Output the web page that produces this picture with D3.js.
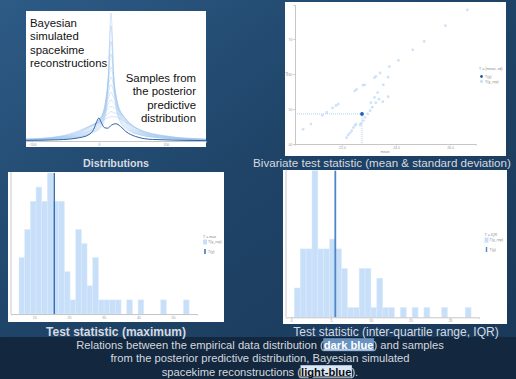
<!DOCTYPE html>
<html>
<head>
<meta charset="utf-8">
<script src="https://cdn.jsdelivr.net/npm/d3@7"></script>
<style>
  html, body { margin: 0; padding: 0; background: #1d3f63; overflow: hidden; }
</style>
</head>
<body>
<svg id="chart" width="516" height="379"></svg>
<script>
// ---- Distributions panel: densities on a shared grid ----
const densityGrid = [-110, -60, -30, -12, 0, 8, 13, 18, 23, 30, 42, 60, 100, 160];
const replicateDensities = [
  [0.5, 1.5, 3, 6, 9, 16, 35, 100, 38, 17, 9, 5, 2, 0.5],
  [0.6, 1.6, 3.2, 6.5, 10, 18, 40, 90, 42, 18, 10, 5, 2, 0.6],
  [0.7, 1.8, 3.5, 7, 11, 20, 42, 78, 44, 20, 11, 5.5, 2.2, 0.7],
  [0.8, 2, 4, 8, 12, 22, 44, 68, 45, 22, 12, 6, 2.4, 0.8],
  [0.9, 2.2, 4.5, 8.5, 13, 24, 42, 58, 43, 24, 13, 6.5, 2.6, 0.9],
  [1, 2.5, 5, 9, 14, 26, 40, 50, 41, 25, 14, 7, 2.8, 1],
  [1, 2.6, 5.5, 10, 15, 25, 36, 44, 37, 26, 15, 7.5, 3, 1],
  [1.1, 2.8, 6, 11, 16, 24, 32, 38, 33, 25, 16, 8, 3.2, 1.1],
  [1.2, 3, 6.5, 11.5, 16, 22, 28, 32, 29, 24, 16, 8.5, 3.4, 1.2],
  [1.3, 3.2, 7, 12, 16, 21, 25, 27, 26, 23, 16, 9, 3.6, 1.3],
  [1.4, 3.4, 7.5, 12, 15, 19, 21, 23, 22, 21, 15, 9, 3.8, 1.4],
  [1.5, 3.6, 8, 12, 14, 17, 18, 19, 19, 18, 14, 9, 4, 1.5]
];
const observedGrid = [-110, -60, -30, -15, -8, -3, 0, 3, 8, 13, 19, 25, 32, 40, 55, 80, 160];
const observedDensity = [0.5, 1, 2.5, 5, 9, 15.5, 18, 15, 10.5, 10, 12.5, 13.5, 11.5, 7.5, 3.5, 1.2, 0.3];
const densityTicks = [-100, 0, 100];

// ---- Bivariate panel: (mean, sd) of replicates ----
const repMeans = [20.56, 20.85, 21.27, 21.44, 21.65, 21.78, 21.86, 22.47, 22.54, 22.78, 22.84, 23.20, 23.25, 23.41,
  23.75, 24.09, 24.62, 25.04, 25.83, 26.64,
  22.17, 22.23, 22.30, 22.36, 22.42, 22.48, 22.52, 22.67, 22.70, 22.79, 22.85, 22.95, 23.04, 23.12,
  23.25, 23.37, 23.51, 23.71, 23.07, 23.20, 23.32, 23.53, 23.71];
const repSds = [44.2, 45.7, 48.2, 49.0, 50.3, 51.0, 51.4, 55.2, 55.6, 56.8, 56.9, 58.9, 59.3, 60.3,
  62.1, 63.9, 66.9, 69.3, 73.8, 78.3,
  41.8, 42.6, 43.2, 43.8, 44.7, 45.3, 45.7, 45.4, 45.9, 46.7, 47.6, 48.6, 49.5, 50.5,
  51.8, 52.8, 52.1, 53.5, 51.8, 53.3, 54.7, 56.9, 59.1];
const obsMean = 22.74;
const obsSd = 48.6;
const meanTicks = [22, 24, 26];
const sdTicks = [40, 50, 60, 70];

// ---- Maximum histogram ----
const maxBinStart = 5.6;
const maxBinWidth = 1.634;
const maxCounts = [4, 6, 8, 9, 8, 10, 8, 8, 3, 1, 6, 5, 2, 4, 1, 1, 1, 1, 0, 1, 0, 1, 0, 0, 0, 1, 0, 0, 0, 1];
const obsMax = 15.76;
const maxTicks = [10, 20, 30, 40, 50];

// ---- IQR histogram ----
const iqrBinStart = 0.38;
const iqrBinWidth = 0.742;
const iqrCounts = [3, 7, 7, 15, 7, 7, 8, 7, 5, 1, 1, 5, 5, 1, 4, 1, 1, 0, 1, 0, 1, 0, 1, 0, 0, 1, 0, 0, 0, 1];
const obsIqr = 5.54;
const iqrTicks = [0, 5, 10, 15, 20];

const FONT = '"Liberation Sans", Arial, Helvetica, sans-serif';
const LIGHT = '#c8dffa';
const DARK = '#2a63a8';
const AXIS = '#c6c6c6';

const svg = d3.select('#chart');

// background
const defs = svg.append('defs');
const bg = defs.append('linearGradient').attr('id', 'bg')
  .attr('x1', 0).attr('y1', 0).attr('x2', 1).attr('y2', 1);
bg.append('stop').attr('offset', 0).attr('stop-color', '#2d5b86');
bg.append('stop').attr('offset', 0.45).attr('stop-color', '#1f4468');
bg.append('stop').attr('offset', 1).attr('stop-color', '#193858');
svg.append('rect').attr('width', 516).attr('height', 379).attr('fill', 'url(#bg)');
svg.append('rect').attr('y', 337).attr('width', 516).attr('height', 42).attr('fill', '#13283f');

function panel(x, y, w, h) {
  return svg.append('rect').attr('x', x).attr('y', y).attr('width', w).attr('height', h).attr('fill', '#fff');
}

function styleAxis(g) {
  g.select('.domain').attr('stroke', AXIS);
  g.selectAll('.tick line').attr('stroke', AXIS);
  g.selectAll('.tick text').attr('fill', '#999').attr('font-size', 3.5).attr('font-family', FONT);
}

function tinyText(x, y, txt, anchor) {
  svg.append('text').attr('x', x).attr('y', y).attr('font-family', FONT)
    .attr('font-size', 3.6).attr('fill', '#888').attr('text-anchor', anchor || 'start').text(txt);
}

// ===== Panel 1: Distributions =====
panel(26, 11, 180, 136);
defs.append('clipPath').attr('id', 'clip1').append('rect')
  .attr('x', 26).attr('y', 11).attr('width', 180).attr('height', 136);
const x1 = d3.scaleLinear().domain([-109, 160]).range([26, 206]);
const y1 = d3.scaleLinear().domain([0, 100]).range([141, 13]);
const g1 = svg.append('g').attr('clip-path', 'url(#clip1)');
const line1 = d3.line().x(d => x1(d[0])).y(d => y1(d[1])).curve(d3.curveMonotoneX);
g1.selectAll('.rep').data(replicateDensities).join('path')
  .attr('class', 'rep')
  .attr('d', vals => line1(densityGrid.map((gx, i) => [gx, vals[i]])))
  .attr('fill', 'none').attr('stroke', '#9cc4ef').attr('stroke-opacity', 0.6).attr('stroke-width', 0.7);
g1.append('path')
  .attr('d', line1(observedGrid.map((gx, i) => [gx, observedDensity[i]])))
  .attr('fill', 'none').attr('stroke', DARK).attr('stroke-width', 1);
const ax1 = svg.append('g').attr('transform', 'translate(0,141)')
  .call(d3.axisBottom(x1).tickValues(densityTicks).tickSize(1.5).tickPadding(1));
styleAxis(ax1);

const leftLabel = ['Bayesian', 'simulated', 'spacekime', 'reconstructions'];
const rightLabel = ['Samples from', 'the posterior', 'predictive', 'distribution'];
leftLabel.forEach((t, i) => svg.append('text').attr('x', 30).attr('y', 27 + i * 13.4)
  .attr('font-family', FONT).attr('font-size', 11.4).attr('fill', '#111').text(t));
rightLabel.forEach((t, i) => svg.append('text').attr('x', 196).attr('y', 82 + i * 13.4)
  .attr('text-anchor', 'end').attr('font-family', FONT).attr('font-size', 11.4).attr('fill', '#111').text(t));

// ===== Panel 2: Bivariate =====
panel(285, 2, 221, 154);
const x2 = d3.scaleLinear().domain([20.26, 26.96]).range([295, 476]);
const y2 = d3.scaleLinear().domain([40, 79.7]).range([144, 5]);
svg.append('line').attr('x1', x2.range()[0]).attr('x2', x2(obsMean))
  .attr('y1', y2(obsSd)).attr('y2', y2(obsSd))
  .attr('stroke', '#9cc3ea').attr('stroke-width', 0.8).attr('stroke-dasharray', '1,1');
svg.append('line').attr('x1', x2(obsMean)).attr('x2', x2(obsMean))
  .attr('y1', y2(obsSd)).attr('y2', y2.range()[0])
  .attr('stroke', '#9cc3ea').attr('stroke-width', 0.8).attr('stroke-dasharray', '1,1');
svg.append('g').selectAll('circle').data(repMeans).join('circle')
  .attr('cx', d => x2(d)).attr('cy', (d, i) => y2(repSds[i])).attr('r', 1.4)
  .attr('fill', '#c2dbf6').attr('fill-opacity', 0.8);
svg.append('circle').attr('cx', x2(obsMean)).attr('cy', y2(obsSd)).attr('r', 1.9).attr('fill', '#1b5fb5');
const ax2x = svg.append('g').attr('transform', 'translate(0,144)')
  .call(d3.axisBottom(x2).tickValues(meanTicks).tickSize(1.5).tickPadding(1));
const ax2y = svg.append('g').attr('transform', 'translate(295,0)')
  .call(d3.axisLeft(y2).tickValues(sdTicks).tickSize(1.5).tickPadding(1));
styleAxis(ax2x); styleAxis(ax2y);
tinyText(385, 153, 'mean', 'middle');
svg.append('text').attr('transform', 'translate(288,74) rotate(-90)').attr('text-anchor', 'middle')
  .attr('font-family', FONT).attr('font-size', 3.6).attr('fill', '#888').text('sd');
tinyText(479, 69.5, 'T = (mean, sd)');
svg.append('circle').attr('cx', 481.5).attr('cy', 76.5).attr('r', 1.4).attr('fill', '#1b5fb5');
tinyText(485, 78, 'T(y)');
svg.append('circle').attr('cx', 481.5).attr('cy', 81.5).attr('r', 1.4).attr('fill', '#c2dbf6');
tinyText(485, 83, 'T(y_rep)');

// ===== Histogram helper =====
function histogram(opts) {
  const { xScale, yScale, binStart, binWidth, counts, obs, ticks, legendX, legendY, title } = opts;
  const g = svg.append('g');
  g.selectAll('rect').data(counts).join('rect')
    .attr('x', (d, i) => xScale(binStart + i * binWidth))
    .attr('width', xScale(binStart + binWidth) - xScale(binStart))
    .attr('y', d => yScale(d))
    .attr('height', d => yScale(0) - yScale(d))
    .attr('fill', LIGHT).attr('stroke', '#dcebfc').attr('stroke-width', 0.5)
    .attr('display', d => d > 0 ? null : 'none');
  svg.append('line').attr('x1', xScale(obs)).attr('x2', xScale(obs))
    .attr('y1', yScale(0)).attr('y2', yScale.range()[1])
    .attr('stroke', opts.obsColor).attr('stroke-width', opts.obsWidth);
  const ax = svg.append('g').attr('transform', `translate(0,${yScale(0)})`)
    .call(d3.axisBottom(xScale).tickValues(ticks).tickSize(1.5).tickPadding(1));
  styleAxis(ax);
  svg.append('line').attr('x1', xScale.range()[0]).attr('x2', xScale.range()[0])
    .attr('y1', yScale(0)).attr('y2', yScale.range()[1] - 1).attr('stroke', AXIS);
  // legend
  tinyText(legendX, legendY, title);
  svg.append('rect').attr('x', legendX).attr('y', legendY + 1.5).attr('width', 4).attr('height', 5).attr('fill', LIGHT);
  tinyText(legendX + 5, legendY + 5, 'T(y_rep)');
  svg.append('rect').attr('x', legendX + 1.3).attr('y', legendY + 11).attr('width', 1.4).attr('height', 5).attr('fill', opts.obsColor);
  tinyText(legendX + 5, legendY + 15, 'T(y)');
}

// ===== Panel 3: maximum =====
panel(8, 172, 216, 150);
histogram({
  xScale: d3.scaleLinear().domain([3.29, 56.9]).range([11, 197]),
  yScale: d3.scaleLinear().domain([0, 10]).range([314, 173]),
  binStart: maxBinStart, binWidth: maxBinWidth, counts: maxCounts, obs: obsMax, ticks: maxTicks,
  obsColor: '#2a63a8', obsWidth: 1.3, legendX: 203, legendY: 238, title: 'T = max'
});

// ===== Panel 4: IQR =====
panel(283, 170, 224, 154);
histogram({
  xScale: d3.scaleLinear().domain([-0.67, 23.64]).range([286, 479]),
  yScale: d3.scaleLinear().domain([0, 15]).range([317.3, 170.7]),
  binStart: iqrBinStart, binWidth: iqrBinWidth, counts: iqrCounts, obs: obsIqr, ticks: iqrTicks,
  obsColor: '#4f86c8', obsWidth: 1.8, legendX: 484.5, legendY: 236, title: 'T = IQR'
});

// ===== Captions =====
function caption(x, y, txt, size, bold, anchor) {
  svg.append('text').attr('x', x).attr('y', y).attr('font-family', FONT)
    .attr('font-size', size).attr('font-weight', bold ? 'bold' : 'normal')
    .attr('fill', '#d6dae0').attr('text-anchor', anchor || 'middle').text(txt);
}
caption(116, 166.5, 'Distributions', 10.7, true);
caption(382, 166.5, 'Bivariate test statistic (mean & standard deviation)', 11.6, false);
caption(116, 335.5, 'Test statistic (maximum)', 12, true);
caption(396, 335.5, 'Test statistic (inter-quartile range, IQR)', 12, false);

function captionLine(parts, cx, y) {
  const g = svg.append('g');
  const texts = parts.map(p => g.append('text')
    .attr('y', y).attr('font-family', FONT).attr('font-size', 11.2)
    .attr('font-weight', p.bold ? 'bold' : 'normal')
    .attr('fill', p.color || '#d3d8df')
    .style('white-space', 'pre')
    .text(p.text));
  const widths = texts.map(t => t.node().getComputedTextLength());
  let x = cx - d3.sum(widths) / 2;
  texts.forEach((t, i) => {
    const p = parts[i];
    if (p.bg) {
      g.insert('rect', ':first-child').attr('x', x - 0.5).attr('y', y - 10.3)
        .attr('width', widths[i] + 1).attr('height', 13).attr('fill', p.bg);
      g.append('line').attr('x1', x).attr('x2', x + widths[i]).attr('y1', y + 1.4).attr('y2', y + 1.4)
        .attr('stroke', p.color).attr('stroke-width', 0.9);
    }
    t.attr('x', x);
    x += widths[i];
  });
}
captionLine([
  { text: 'Relations between the empirical data distribution (' },
  { text: 'dark blue', bold: true, color: '#ffffff', bg: '#6a94c2' },
  { text: ') and samples' }
], 260, 348.5);
captionLine([{ text: 'from the posterior predictive distribution, Bayesian simulated' }], 260, 362);
captionLine([
  { text: 'spacekime reconstructions (' },
  { text: 'light-blue', bold: true, color: '#0d0d0d', bg: '#d9e7f6' },
  { text: ').' }
], 260, 375.5);
</script>
</body>
</html>
